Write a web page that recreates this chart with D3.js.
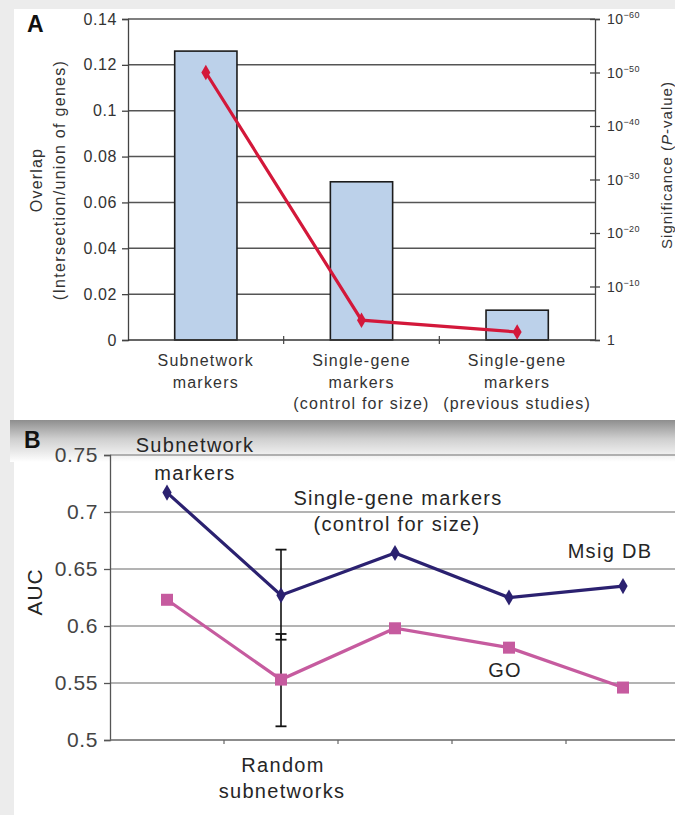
<!DOCTYPE html>
<html><head><meta charset="utf-8">
<script src="https://cdn.jsdelivr.net/npm/d3@7"></script>
<style>
body{margin:0;background:#ececec;}
svg{display:block;font-family:"Liberation Sans",Arial,Helvetica,sans-serif;}
</style>
</head><body>
<svg id="c" width="675" height="815"></svg>
<script>
// ---------- Panel A data ----------
const catsA = ["Subnetwork markers", "Single-gene markers (control for size)", "Single-gene markers (previous studies)"];
const catLinesA = [["Subnetwork", "markers"], ["Single-gene", "markers", "(control for size)"], ["Single-gene", "markers", "(previous studies)"]];
const overlapA = [0.126, 0.069, 0.013];
const negLog10PA = [50, 3.7, 1.5];
const leftTicksA = [0, 0.02, 0.04, 0.06, 0.08, 0.1, 0.12, 0.14];
const leftTickLabelsA = ["0", "0.02", "0.04", "0.06", "0.08", "0.1", "0.12", "0.14"];
const rightTicksA = [0, 10, 20, 30, 40, 50, 60];
const rightTickExpA = ["", "−10", "−20", "−30", "−40", "−50", "−60"];

// ---------- Panel B data ----------
const catsB = ["Subnetwork markers", "Random subnetworks", "Single-gene markers (control for size)", "Single-gene markers 4", "Single-gene markers 5"];
const msigDB = [0.717, 0.627, 0.664, 0.625, 0.635];
const goAUC = [0.623, 0.553, 0.598, 0.581, 0.546];
const errMsigRandom = [0.588, 0.667];
const errGoRandom = [0.512, 0.593];
const ticksB = [0.5, 0.55, 0.6, 0.65, 0.7, 0.75];
const tickLabelsB = ["0.5", "0.55", "0.6", "0.65", "0.7", "0.75"];

const svg = d3.select("#c");

// ---------- backgrounds ----------
const defs = svg.append("defs");
const g1 = defs.append("linearGradient").attr("id", "shade").attr("x1", 0).attr("y1", 0).attr("x2", 0).attr("y2", 1);
g1.append("stop").attr("offset", "0%").attr("stop-color", "#8e8e8e");
g1.append("stop").attr("offset", "45%").attr("stop-color", "#cfcfcf");
g1.append("stop").attr("offset", "100%").attr("stop-color", "#ffffff");

svg.append("rect").attr("x", 14).attr("y", 9).attr("width", 661).attr("height", 411).attr("fill", "#ffffff");
svg.append("rect").attr("x", 14).attr("y", 420).attr("width", 661).attr("height", 395).attr("fill", "#ffffff");
svg.append("rect").attr("x", 10).attr("y", 420).attr("width", 665).attr("height", 42).attr("fill", "url(#shade)");

// ================= Panel A =================
const A = {l: 128, r: 595, t: 19, b: 340};
const xA = d3.scaleBand().domain(catsA).range([A.l, A.r]).paddingInner(0.6).paddingOuter(0.3);
const yA = d3.scaleLinear().domain([0, 0.14]).range([A.b, A.t]);
const yAR = d3.scaleLinear().domain([0, 60]).range([A.b, A.t]);
const gA = svg.append("g");
const textA = "#333";

// gridlines
gA.selectAll("line.grid").data(leftTicksA.slice(1)).join("line")
  .attr("x1", A.l).attr("x2", A.r).attr("y1", d => yA(d)).attr("y2", d => yA(d))
  .attr("stroke", "#555").attr("stroke-width", 1.5);

// bars
gA.selectAll("rect.bar").data(overlapA).join("rect")
  .attr("x", (d, i) => xA(catsA[i])).attr("width", xA.bandwidth())
  .attr("y", d => yA(d)).attr("height", d => yA(0) - yA(d))
  .attr("fill", "#bcd1ea").attr("stroke", "#1c1c1c").attr("stroke-width", 1.6);

// left axis
const leftAxisA = d3.axisLeft(yA).tickValues(leftTicksA).tickFormat((d, i) => leftTickLabelsA[i]).tickSize(6).tickPadding(5);
const la = gA.append("g").attr("transform", `translate(${A.l},0)`).call(leftAxisA);
la.select(".domain").attr("stroke", "#444").attr("stroke-width", 1.3);
la.selectAll(".tick line").attr("stroke", "#444").attr("stroke-width", 1.3);
la.selectAll("text").attr("fill", textA).style("font-size", "16px").style("letter-spacing", "0.6px");

// bottom axis line + category boundary ticks
gA.append("line").attr("x1", A.l).attr("x2", A.r).attr("y1", A.b).attr("y2", A.b).attr("stroke", "#333").attr("stroke-width", 1.5);
const bndA = catsA.slice(1).map(c => xA(c) - xA.step() * xA.paddingInner() / 2);
gA.selectAll("line.btick").data(bndA).join("line")
  .attr("x1", d => d).attr("x2", d => d).attr("y1", A.b - 4).attr("y2", A.b + 4)
  .attr("stroke", "#444").attr("stroke-width", 1.2);

// right axis
const rightAxisA = d3.axisRight(yAR).tickValues(rightTicksA).tickFormat("").tickSize(5);
const ra = gA.append("g").attr("transform", `translate(${A.r},0)`).call(rightAxisA);
ra.select(".domain").attr("stroke", "#444").attr("stroke-width", 1.3);
ra.selectAll(".tick line").attr("x1", -5).attr("stroke", "#444").attr("stroke-width", 1.3);
const rl = gA.selectAll("text.rl").data(rightTicksA).join("text")
  .attr("x", A.r + 12).attr("y", d => yAR(d) + 5)
  .attr("fill", textA).style("font-size", "14px").style("letter-spacing", "0.4px");
rl.each(function(d, i) {
  const t = d3.select(this);
  if (rightTickExpA[i] === "") { t.text("1"); return; }
  t.append("tspan").text("10");
  t.append("tspan").attr("dy", -6).style("font-size", "9px").text(rightTickExpA[i]);
});

// red line
const ptsA = negLog10PA.map((v, i) => [xA(catsA[i]) + xA.bandwidth() / 2, yAR(v)]);
gA.append("path").attr("d", d3.line()(ptsA)).attr("fill", "none").attr("stroke", "#d3183a").attr("stroke-width", 3.2);
gA.selectAll("path.dm").data(ptsA).join("path")
  .attr("d", d3.symbol(d3.symbolDiamond, 70)()).attr("transform", d => `translate(${d[0]},${d[1]})`)
  .attr("fill", "#d3183a");

// category labels
catLinesA.forEach((lines, i) => {
  const cx = xA(catsA[i]) + xA.bandwidth() / 2;
  lines.forEach((s, j) => {
    gA.append("text").attr("x", cx).attr("y", 366 + j * 21.5).attr("text-anchor", "middle")
      .attr("fill", textA).style("font-size", "16px").style("letter-spacing", "1.2px").text(s);
  });
});

// axis titles
gA.append("text").attr("transform", "translate(42,180) rotate(-90)").attr("text-anchor", "middle")
  .attr("fill", textA).style("font-size", "16px").style("letter-spacing", "1.2px").text("Overlap");
gA.append("text").attr("transform", "translate(65,180) rotate(-90)").attr("text-anchor", "middle")
  .attr("fill", textA).style("font-size", "16px").style("letter-spacing", "1.3px").text("(Intersection/union of genes)");
const sig = gA.append("text").attr("transform", "translate(672,165) rotate(-90)").attr("text-anchor", "middle")
  .attr("fill", textA).style("font-size", "15px").style("letter-spacing", "1px");
sig.append("tspan").text("Significance (");
sig.append("tspan").style("font-style", "italic").text("P");
sig.append("tspan").text("-value)");

gA.append("text").attr("x", 27).attr("y", 32).style("font-size", "23px").style("font-weight", "bold").attr("fill", "#111").text("A");

// ================= Panel B =================
const B = {l: 110, r: 680, t: 455, b: 740};
const xB = d3.scalePoint().domain(catsB).range([B.l, B.r]).padding(0.5);
const yB = d3.scaleLinear().domain([0.5, 0.75]).range([B.b, B.t]);
const gB = svg.append("g");
const textB = "#262626";

gB.selectAll("line.grid").data(ticksB.slice(1)).join("line")
  .attr("x1", B.l).attr("x2", B.r).attr("y1", d => yB(d)).attr("y2", d => yB(d))
  .attr("stroke", "#9a9a9a").attr("stroke-width", 1.6);

const leftAxisB = d3.axisLeft(yB).tickValues(ticksB).tickFormat((d, i) => tickLabelsB[i]).tickSize(6).tickPadding(6);
const lb = gB.append("g").attr("transform", `translate(${B.l},0)`).call(leftAxisB);
lb.select(".domain").attr("stroke", "#555").attr("stroke-width", 1.3);
lb.selectAll(".tick line").attr("stroke", "#555").attr("stroke-width", 1.3);
lb.selectAll("text").attr("fill", "#444").style("font-size", "21px").style("letter-spacing", "0.6px");

gB.append("line").attr("x1", B.l).attr("x2", B.r).attr("y1", B.b).attr("y2", B.b).attr("stroke", "#666").attr("stroke-width", 1.6);
const bndB = catsB.slice(1).map(c => xB(c) - xB.step() / 2);
gB.selectAll("line.btick").data(bndB).join("line")
  .attr("x1", d => d).attr("x2", d => d).attr("y1", B.b).attr("y2", B.b + 4)
  .attr("stroke", "#666").attr("stroke-width", 1.2);

// error bars at Random subnetworks
const xr = xB(catsB[1]);
[errMsigRandom, errGoRandom].forEach((e, k) => {
  gB.append("line").attr("x1", xr).attr("x2", xr).attr("y1", yB(e[0])).attr("y2", yB(e[1])).attr("stroke", "#111").attr("stroke-width", 1.6);
  e.forEach(v => gB.append("line").attr("x1", xr - 5.5).attr("x2", xr + 5.5).attr("y1", yB(v)).attr("y2", yB(v)).attr("stroke", "#111").attr("stroke-width", 1.8));
});

const ptsG = goAUC.map((v, i) => [xB(catsB[i]), yB(v)]);
const ptsM = msigDB.map((v, i) => [xB(catsB[i]), yB(v)]);
gB.append("path").attr("d", d3.line()(ptsG)).attr("fill", "none").attr("stroke", "#c65b9f").attr("stroke-width", 3.2);
gB.selectAll("rect.sq").data(ptsG).join("rect")
  .attr("x", d => d[0] - 6).attr("y", d => d[1] - 6).attr("width", 12).attr("height", 12).attr("fill", "#c65b9f");
gB.append("path").attr("d", d3.line()(ptsM)).attr("fill", "none").attr("stroke", "#2b2170").attr("stroke-width", 3.2);
gB.selectAll("path.dm").data(ptsM).join("path")
  .attr("d", d3.symbol(d3.symbolDiamond, 75)()).attr("transform", d => `translate(${d[0]},${d[1]})`)
  .attr("fill", "#2b2170");

// annotations
const ann = [
  {t: "Subnetwork", x: 195, y: 452},
  {t: "markers", x: 195, y: 480},
  {t: "Single-gene markers", x: 398, y: 505},
  {t: "(control for size)", x: 397, y: 531},
  {t: "Msig DB", x: 610, y: 558},
  {t: "GO", x: 505, y: 677},
  {t: "Random", x: 283, y: 772},
  {t: "subnetworks", x: 282, y: 798}
];
gB.selectAll("text.ann").data(ann).join("text")
  .attr("x", d => d.x).attr("y", d => d.y).attr("text-anchor", "middle")
  .attr("fill", textB).style("font-size", "20px").style("letter-spacing", "1.3px").text(d => d.t);

gB.append("text").attr("transform", "translate(42,592) rotate(-90)").attr("text-anchor", "middle")
  .attr("fill", textB).style("font-size", "21px").style("letter-spacing", "0.8px").text("AUC");
gB.append("text").attr("x", 24).attr("y", 448).style("font-size", "23px").style("font-weight", "bold").attr("fill", "#111").text("B");
</script>
</body></html>
